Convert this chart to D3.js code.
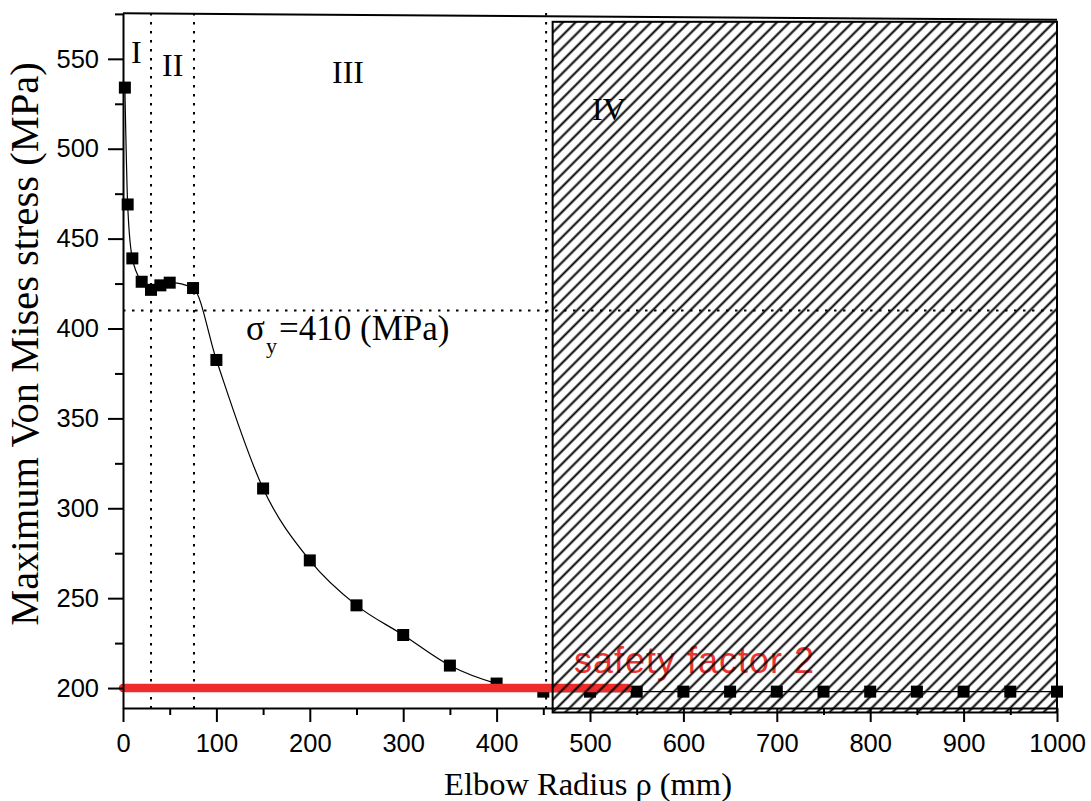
<!DOCTYPE html>
<html>
<head>
<meta charset="utf-8">
<script src="https://cdn.jsdelivr.net/npm/d3@7"></script>
<style>
body { margin: 0; background: #fff; }
</style>
</head>
<body>
<script>
// elbow radius (mm) and max Von Mises stress (MPa)
var radius = [2, 5, 10, 20, 30, 40, 50, 75, 100, 150, 200, 250, 300, 350, 400,
              450, 500, 550, 600, 650, 700, 750, 800, 850, 900, 950, 1000];
var stress = [534, 469, 439, 426, 421.5, 424, 425.5, 422.5, 382.5, 311, 271, 246, 229.5, 212.5, 202.5,
              198, 198, 198, 198, 198, 198, 198, 198, 198, 198, 198, 198];

var xTicks = [0, 100, 200, 300, 400, 500, 600, 700, 800, 900, 1000];
var xMinor = [50, 150, 250, 350, 450, 550, 650, 750, 850, 950];
var yTicks = [200, 250, 300, 350, 400, 450, 500, 550];
var yMinor = [225, 275, 325, 375, 425, 475, 525, 575];

var regionBounds = [30, 76, 453];
var regionNames = ["I", "II", "III", "IV"];
var yieldStress = 410;
var safetyStress = 200;
var safetyExtent = [0, 540];
var hatchExtent = [460, 1000];

var width = 1091, height = 801;

var svg = d3.select("body").append("svg")
    .attr("width", width)
    .attr("height", height);

var x = d3.scaleLinear().domain([0, 1000]).range([123, 1057]);
var y = d3.scaleLinear().domain([188.9, 575.5]).range([708, 13]);

var defs = svg.append("defs");
defs.append("pattern")
    .attr("id", "hatch")
    .attr("patternUnits", "userSpaceOnUse")
    .attr("width", 8.9)
    .attr("height", 8.9)
    .attr("patternTransform", "rotate(45)")
  .append("line")
    .attr("x1", 4.45).attr("y1", 0)
    .attr("x2", 4.45).attr("y2", 8.9)
    .attr("stroke", "#000")
    .attr("stroke-width", 2);

// dotted region borders
svg.selectAll(".region-line")
    .data(regionBounds)
    .enter().append("line")
    .attr("class", "region-line")
    .attr("x1", function(d) { return x(d); })
    .attr("x2", function(d) { return x(d); })
    .attr("y1", y(575.5))
    .attr("y2", y(188.9))
    .attr("stroke", "#000")
    .attr("stroke-width", 2)
    .attr("stroke-dasharray", "2.5,6.5");

// yield stress line
svg.append("line")
    .attr("x1", x(0))
    .attr("x2", x(1000))
    .attr("y1", y(yieldStress))
    .attr("y2", y(yieldStress))
    .attr("stroke", "#000")
    .attr("stroke-width", 2)
    .attr("stroke-dasharray", "2.5,6.5");

// data curve
var line = d3.line()
    .x(function(d) { return x(d[0]); })
    .y(function(d) { return y(d[1]); })
    .curve(d3.curveMonotoneX);

var points = radius.map(function(r, i) { return [r, stress[i]]; });

svg.append("path")
    .datum(points)
    .attr("fill", "none")
    .attr("stroke", "#000")
    .attr("stroke-width", 1.2)
    .attr("d", line);

svg.selectAll(".pt")
    .data(points)
    .enter().append("rect")
    .attr("class", "pt")
    .attr("x", function(d) { return x(d[0]) - 6; })
    .attr("y", function(d) { return y(d[1]) - 6; })
    .attr("width", 12)
    .attr("height", 12)
    .attr("fill", "#000");

// safety factor line
svg.append("line")
    .attr("x1", x(safetyExtent[0]))
    .attr("x2", x(safetyExtent[1]))
    .attr("y1", y(safetyStress))
    .attr("y2", y(safetyStress))
    .attr("stroke", "#ee2c2a")
    .attr("stroke-width", 8.5)
    .attr("stroke-linecap", "round");

svg.append("text")
    .attr("x", 574)
    .attr("y", 673)
    .attr("fill", "#ef3330")
    .style("font-family", "'Liberation Sans', Arial, sans-serif")
    .style("font-size", "36px")
    .style("letter-spacing", "1px")
    .text("safety factor 2");

// axes
var serif = "'Liberation Serif', 'Times New Roman', serif";
var sans = "'Liberation Sans', Arial, sans-serif";

svg.append("g")
    .attr("transform", "translate(" + x(0) + ",0)")
    .call(d3.axisLeft(y).tickValues(yTicks).tickSize(15).tickSizeOuter(0).tickPadding(9));
svg.append("g")
    .attr("transform", "translate(" + x(0) + ",0)")
    .call(d3.axisLeft(y).tickValues(yMinor).tickSize(8).tickSizeOuter(0).tickFormat(""))
    .select(".domain").remove();

svg.append("g")
    .attr("transform", "translate(0," + y(188.9) + ")")
    .call(d3.axisBottom(x).tickValues(xTicks).tickSize(14).tickSizeOuter(0).tickPadding(12)
        .tickFormat(d3.format("d")));
svg.append("g")
    .attr("transform", "translate(0," + y(188.9) + ")")
    .call(d3.axisBottom(x).tickValues(xMinor).tickSize(7).tickSizeOuter(0).tickFormat(""))
    .select(".domain").remove();

svg.selectAll(".tick line").attr("stroke-width", 2);
svg.selectAll(".domain").attr("stroke-width", 2);
svg.selectAll(".tick text")
    .style("font-family", sans)
    .style("font-size", "25.5px")
    .attr("fill", "#000");

// top frame line
svg.append("line")
    .attr("x1", x(0)).attr("y1", y(575.3))
    .attr("x2", x(1000)).attr("y2", y(571.8))
    .attr("stroke", "#000")
    .attr("stroke-width", 2);

// axis titles
svg.append("text")
    .attr("x", x(500) - 2)
    .attr("y", 795)
    .attr("text-anchor", "middle")
    .style("font-family", serif)
    .style("font-size", "32.5px")
    .text("Elbow Radius \u03c1 (mm)");

svg.append("text")
    .attr("transform", "translate(38,344) rotate(-90)")
    .attr("text-anchor", "middle")
    .style("font-family", serif)
    .style("font-size", "40.5px")
    .text("Maximum Von Mises stress (MPa)");

// region labels
var regionPos = [[131, 63], [162, 76], [332, 83], [592, 120]];
svg.selectAll(".region-label")
    .data(regionNames)
    .enter().append("text")
    .attr("class", "region-label")
    .attr("x", function(d, i) { return regionPos[i][0]; })
    .attr("y", function(d, i) { return regionPos[i][1]; })
    .style("font-family", serif)
    .style("font-size", "32px")
    .text(function(d) { return d; });

// yield label: sigma with subscript y
svg.append("text")
    .attr("x", 246)
    .attr("y", 340)
    .style("font-family", serif)
    .style("font-size", "35px")
    .text("\u03c3");
svg.append("text")
    .attr("x", 266)
    .attr("y", 353)
    .style("font-family", serif)
    .style("font-size", "22px")
    .text("y");
svg.append("text")
    .attr("x", 279)
    .attr("y", 340)
    .style("font-family", serif)
    .style("font-size", "35px")
    .text("=410 (MPa)");

// hatched region IV drawn on top
svg.append("rect")
    .attr("x", x(hatchExtent[0]))
    .attr("y", y(570.6))
    .attr("width", x(hatchExtent[1]) - x(hatchExtent[0]))
    .attr("height", y(186.4) - y(570.6))
    .attr("fill", "url(#hatch)")
    .attr("stroke", "#000")
    .attr("stroke-width", 2);
</script>
</body>
</html>
